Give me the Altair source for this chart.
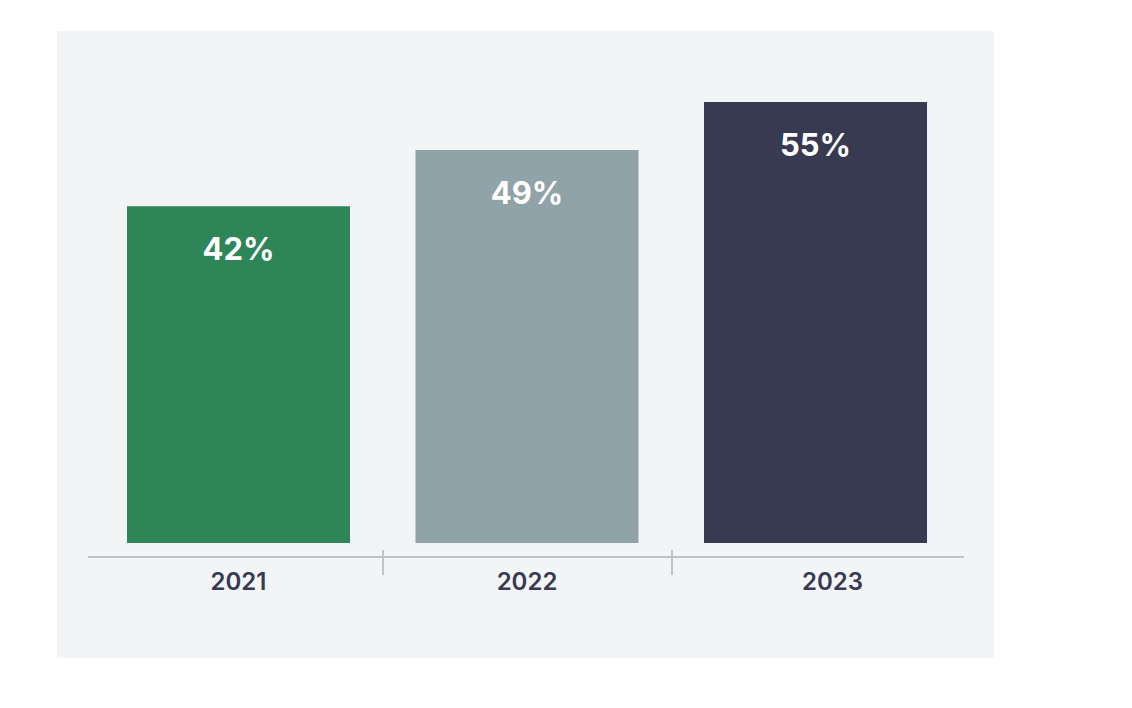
import altair as alt
import pandas as pd

years = ["2021", "2022", "2023"]
values = [42, 49, 55]
labels = ["42%", "49%", "55%"]
colors = ["#2e8558", "#8fa3a8", "#383a52"]

df = pd.DataFrame({"year": years, "value": values, "label": labels})

FONT = "Inter"

x = alt.X(
    "year:N",
    sort=years,
    scale=alt.Scale(domain=years, range=[37.25, 902.75], paddingInner=0.227, paddingOuter=0.1135),
    axis=alt.Axis(
        title=None,
        domain=False,
        ticks=False,
        tickSize=0,
        labelAngle=0,
        offset=-101,
        labelPadding=25,
        labelBaseline="middle",
        labelFont=FONT,
        labelFontSize=24,
        labelFontWeight=600,
        labelColor="#373a52",
        labelOffset=alt.condition("datum.value == '2023'", alt.value(17), alt.value(0)),
    ),
)
yscale = alt.Scale(domain=[-14.34, 63.84], nice=False, zero=False)

base = alt.Chart(df)

bars = base.mark_bar().encode(
    x=x,
    y=alt.Y("value:Q", scale=yscale, axis=None),
    y2=alt.datum(0),
    color=alt.Color("year:N", scale=alt.Scale(domain=years, range=colors), legend=None),
)

text = base.mark_text(
    font=FONT, fontSize=31, fontWeight="bold", color="white", baseline="middle", dy=45
).encode(
    x=alt.X("year:N", sort=years),
    y=alt.Y("value:Q", scale=yscale),
    text="label:N",
)

main = alt.layer(bars, text)

axis_line = alt.Chart(df).mark_rule(color="#bec5ca", strokeWidth=2).encode(
    x=alt.value(31), x2=alt.value(907), y=alt.value(526)
)

seps = alt.Chart(pd.DataFrame({"p": [326, 615]})).mark_rule(color="#bec5ca", strokeWidth=2).encode(
    x=alt.X("p:Q", scale=alt.Scale(domain=[0, 937], range=[0, 937], nice=False, zero=False), axis=None),
    y=alt.value(519),
    y2=alt.value(544),
)

chart = (
    alt.layer(main, axis_line, seps)
    .resolve_scale(x="independent")
    .properties(
        width=937,
        height=627,
        autosize=alt.AutoSizeParams(type="none"),
        padding={"left": 49, "top": 23, "right": 120, "bottom": 40},
        background="white",
    )
    .configure_view(fill="#f3f4f6", stroke=None)
)

chart.save("out.html", embed_options={"renderer": "svg", "actions": False})
